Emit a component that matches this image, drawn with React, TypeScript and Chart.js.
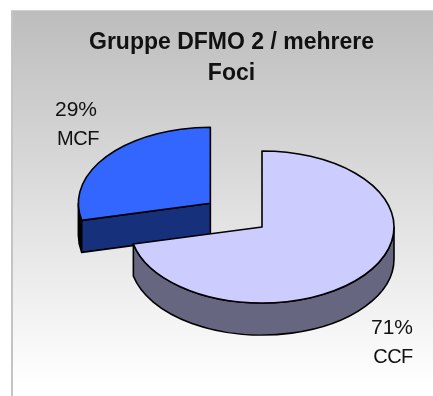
import React, { useEffect, useRef } from "react";
import { Chart, registerables } from "chart.js";

Chart.register(...registerables);

const categories = ["CCF", "MCF"];
const shares = [71.4, 28.6];
const titleLines = ["Gruppe DFMO 2 / mehrere", "Foci"];
const topColors = ["#ccccff", "#3366ff"];
const sideColors = ["#666680", "#000000"];
const cutColors = ["#666680", "#17307c"];
const explode = [0, 66];

const W = 433, H = 396;
const CX = 262, CY = 227, SQUASH = 0.576, DEPTH = 32;
const LABEL_POS = [{ x: 392, y: 328 }, { x: 76, y: 110 }];
const NAME_POS = [{ x: 393, y: 357 }, { x: 78, y: 139 }];

const pie3d = {
  id: "pie3d",
  beforeDraw(chart: any) {
    const { ctx } = chart;
    ctx.save();
    ctx.fillStyle = "#ffffff";
    ctx.fillRect(0, 0, W, H);
    const g = ctx.createLinearGradient(0, 11, 0, 385);
    g.addColorStop(0, "#bdbdbd");
    g.addColorStop(1, "#ffffff");
    ctx.fillStyle = g;
    ctx.fillRect(12, 11, W - 12, H - 11);
    ctx.fillStyle = "#c4c4c4";
    ctx.fillRect(11, 10, 2, H - 10);
    ctx.fillStyle = "#d0d0d0";
    ctx.fillRect(11, 10, W - 11, 1);
    ctx.restore();
  },
  beforeDatasetDraw(chart: any, args: any) {
    const { ctx } = chart;
    const arcs = args.meta.data;
    const geo = (i: number) => {
      const a = arcs[i];
      const p = a.getProps(["x", "y", "startAngle", "endAngle", "outerRadius"], true);
      const mid = (p.startAngle + p.endAngle) / 2;
      const off = a.options.offset || 0;
      return {
        x: CX + Math.cos(mid) * off,
        y: CY + Math.sin(mid) * off * SQUASH,
        r: p.outerRadius, s: p.startAngle, e: p.endAngle,
      };
    };
    const ellipse = (g: any, dy: number, a0: number, a1: number, ccw = false) => {
      ctx.save();
      ctx.translate(g.x, g.y + dy);
      ctx.scale(1, SQUASH);
      ctx.arc(0, 0, g.r, a0, a1, ccw);
      ctx.restore();
    };
    const pt = (g: any, a: number) => ({
      x: g.x + Math.cos(a) * g.r,
      y: g.y + Math.sin(a) * g.r * SQUASH,
    });
    const finish = (fill: string) => {
      ctx.fillStyle = fill;
      ctx.fill();
      ctx.strokeStyle = "#000";
      ctx.lineWidth = 1.6;
      ctx.lineJoin = "round";
      ctx.stroke();
    };
    for (const i of [1, 0]) {
      const g = geo(i);
      ctx.beginPath();
      if (i === 0) {
        ellipse(g, 0, 0, g.e);
        ellipse(g, DEPTH, g.e, 0, true);
      } else {
        ellipse(g, 0, g.s, Math.PI);
        ellipse(g, DEPTH, Math.PI, g.s, true);
      }
      ctx.closePath();
      finish(sideColors[i]);
      if (i === 1) {
        const p = pt(g, g.s);
        ctx.beginPath();
        ctx.moveTo(g.x, g.y);
        ctx.lineTo(p.x, p.y);
        ctx.lineTo(p.x, p.y + DEPTH);
        ctx.lineTo(g.x, g.y + DEPTH);
        ctx.closePath();
        finish(cutColors[i]);
      }
      ctx.beginPath();
      ctx.moveTo(g.x, g.y);
      ellipse(g, 0, g.s, g.e);
      ctx.closePath();
      finish(topColors[i]);
    }
    ctx.save();
    ctx.fillStyle = "#111";
    ctx.textAlign = "center";
    ctx.textBaseline = "middle";
    categories.forEach((c, i) => {
      ctx.font = "21px 'Liberation Sans'";
      (ctx as any).letterSpacing = "0px";
      ctx.fillText(Math.round(shares[i]) + "%", LABEL_POS[i].x, LABEL_POS[i].y);
      ctx.font = "20px 'Liberation Sans'";
      (ctx as any).letterSpacing = "-0.5px";
      ctx.fillText(c, NAME_POS[i].x, NAME_POS[i].y);
    });
    ctx.restore();
    return false;
  },
};

export default function App() {
  const ref = useRef<HTMLCanvasElement>(null);
  useEffect(() => {
    const chart = new Chart(ref.current!, {
      type: "pie",
      data: {
        labels: categories,
        datasets: [{ data: shares, backgroundColor: topColors, offset: explode, radius: 132, borderWidth: 0 } as any],
      },
      options: {
        responsive: false,
        animation: false,
        events: [],
        layout: { padding: { left: 30, top: 27 } },
        plugins: {
          legend: { display: false },
          tooltip: { enabled: false },
          title: {
            display: true,
            text: titleLines,
            color: "#111",
            font: { family: "'Liberation Sans'", size: 23, weight: "bold", lineHeight: 1.35 },
            padding: 0,
          },
        },
      },
      plugins: [pie3d as any],
    });
    return () => chart.destroy();
  }, []);
  return (
    <canvas
      ref={ref}
      width={W}
      height={H}
      style={{ position: "fixed", left: 0, top: 0, width: W, height: H, display: "block" }}
    />
  );
}
